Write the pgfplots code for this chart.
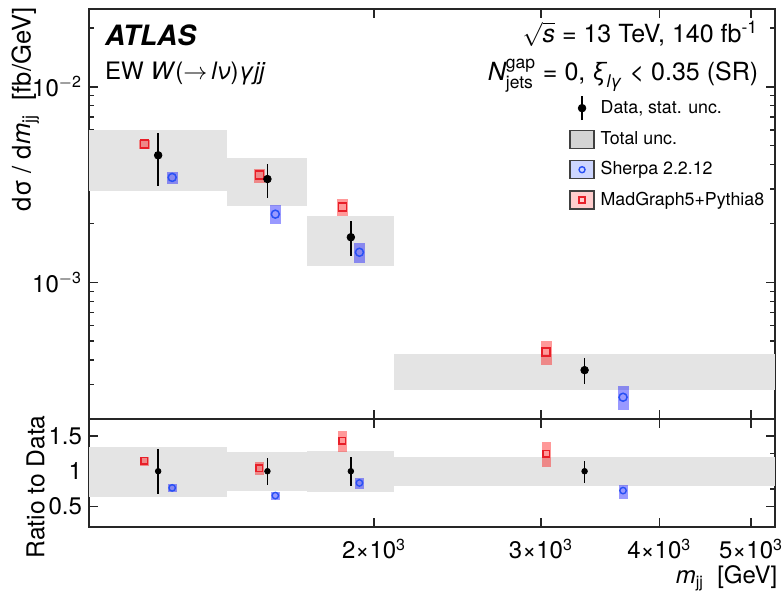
\documentclass[border=0pt]{standalone}
\usepackage{fontspec}
\setmainfont{TeX Gyre Heros}
\usepackage{amsmath}
\usepackage{pgfplots}
\pgfplotsset{compat=1.18}
\definecolor{boxgray}{RGB}{228,228,228}
\definecolor{legray}{RGB}{212,212,212}
\definecolor{mgred}{RGB}{232,30,40}
\definecolor{shblue}{RGB}{40,80,245}
\definecolor{legblue}{RGB}{205,214,255}
\definecolor{legred}{RGB}{255,205,205}

\pgfplotstableread{
x y ep em
1183 4.465e-3 1.345e-3 1.369e-3
1543 3.374e-3 0.676e-3 0.664e-3
1890 1.701e-3 0.347e-3 0.342e-3
3336 3.555e-4 0.540e-4 0.542e-4
}\datatop
\pgfplotstableread{
x y ep em
1144 5.10e-3 0.275e-3 0.290e-3
1513 3.537e-3 0.260e-3 0.318e-3
1851 2.424e-3 0.254e-3 0.252e-3
3039 4.41e-4 0.61e-4 0.64e-4
}\mgtop
\pgfplotstableread{
x y ep em
1224 3.44e-3 0.243e-3 0.244e-3
1573 2.232e-3 0.262e-3 0.239e-3
1930 1.425e-3 0.160e-3 0.163e-3
3663 2.584e-4 0.370e-4 0.368e-4
}\shtop
\pgfplotstableread{
x y ep em
1183 1 0.31 0.32
1543 1 0.19 0.20
1890 1 0.20 0.21
3336 1 0.15 0.16
}\dataratio
\pgfplotstableread{
x y ep em
1144 1.146 0.060 0.067
1513 1.042 0.085 0.090
1851 1.433 0.137 0.156
3039 1.245 0.174 0.184
}\mgratio
\pgfplotstableread{
x y ep em
1224 0.764 0.056 0.057
1573 0.655 0.052 0.061
1930 0.834 0.076 0.080
3663 0.726 0.080 0.118
}\shratio

\begin{document}
\begin{tikzpicture}
\begin{axis}[name=top, scale only axis, width=343pt, height=205pt,
  xmode=log, xmin=1000, xmax=5300,
  axis line style={line width=0.8pt, black!85},
  every tick/.style={line width=0.7pt, black!85},
  major tick length=4.5pt, minor tick length=2.5pt,
  xtick={1000,2000,3000,4000,5000}, minor xtick={},
  tick label style={font=\fontsize{12}{14}\selectfont},
  tick align=inside,
  ymode=log, ymin=2e-4, ymax=0.025,
  ytick={1e-3,1e-2},
  yticklabels={10\textsuperscript{$-$3},10\textsuperscript{$-$2}},
  minor ytick={2e-4,3e-4,4e-4,5e-4,6e-4,7e-4,8e-4,9e-4,2e-3,3e-3,4e-3,5e-3,6e-3,7e-3,8e-3,9e-3,2e-2},
  xticklabels={},
  ylabel={dσ / d\textit{m}\textsubscript{jj}~~[fb/GeV]},
  ylabel style={at={(axis description cs:-0.085,1.004)}, anchor=base east, inner sep=0pt,
    font=\fontsize{12.8}{14}\selectfont},
  legend style={at={(axis description cs:0.691,0.80)}, anchor=north west, draw=none, fill=none,
    font=\fontsize{8.9}{10.5}\selectfont, row sep=3.2pt, column sep=2pt, nodes={inner sep=1pt}},
  legend cell align=left,
]
% total uncertainty boxes
\addplot[fill=boxgray, draw=none, forget plot] coordinates {(1000,2.918e-3) (1400,2.918e-3) (1400,5.998e-3) (1000,5.998e-3)};
\addplot[fill=boxgray, draw=none, forget plot] coordinates {(1400,2.444e-3) (1700,2.444e-3) (1700,4.31e-3) (1400,4.31e-3)};
\addplot[fill=boxgray, draw=none, forget plot] coordinates {(1700,1.214e-3) (2100,1.214e-3) (2100,2.19e-3) (1700,2.19e-3)};
\addplot[fill=boxgray, draw=none, forget plot] coordinates {(2100,2.816e-4) (5300,2.816e-4) (5300,4.29e-4) (2100,4.29e-4)};
% MC uncertainty boxes
\addplot[draw=none, mark=none, forget plot,
  error bars/.cd, y dir=both, y explicit, error mark=none,
  error bar style={draw=red, line width=5.5pt, draw opacity=0.4}]
  table[x=x, y=y, y error plus=ep, y error minus=em] {\mgtop};
\addplot[draw=none, mark=none, forget plot,
  error bars/.cd, y dir=both, y explicit, error mark=none,
  error bar style={draw=blue, line width=5.5pt, draw opacity=0.4}]
  table[x=x, y=y, y error plus=ep, y error minus=em] {\shtop};
% MC markers
\addplot[only marks, mark=square, mark size=2pt, mgred, line width=0.75pt, forget plot] table[x=x, y=y] {\mgtop};
\addplot[only marks, mark=o, mark size=2pt, shblue, line width=0.75pt, forget plot] table[x=x, y=y] {\shtop};
% data
\addplot[only marks, mark=*, mark size=1.9pt, black, forget plot,
  error bars/.cd, y dir=both, y explicit, error mark=none,
  error bar style={line width=0.75pt, black}] table[x=x, y=y, y error plus=ep, y error minus=em] {\datatop};

\addlegendimage{legend image code/.code={\path[draw=none,fill=none] (0pt,-6pt) rectangle (12pt,6pt); \draw[black, line width=0.75pt] (6pt,-6pt)--(6pt,6pt); \fill[black] (6pt,0pt) circle (1.9pt);}}
\addlegendentry{Data, stat. unc.}
\addlegendimage{legend image code/.code={\path[draw=none,fill=none] (0pt,-6pt) rectangle (12pt,6pt); \draw[fill=legray, draw=black!75, line width=0.6pt] (0pt,-4.5pt) rectangle (12pt,4.5pt);}}
\addlegendentry{Total unc.}
\addlegendimage{legend image code/.code={\path[draw=none,fill=none] (0pt,-6pt) rectangle (12pt,6pt); \draw[fill=legblue, draw=black!75, line width=0.6pt] (0pt,-4.5pt) rectangle (12pt,4.5pt); \draw[shblue, line width=0.7pt, fill=none] (6pt,0pt) circle (1.5pt);}}
\addlegendentry{Sherpa 2.2.12}
\addlegendimage{legend image code/.code={\path[draw=none,fill=none] (0pt,-6pt) rectangle (12pt,6pt); \draw[fill=legred, draw=black!75, line width=0.6pt] (0pt,-4.5pt) rectangle (12pt,4.5pt); \draw[mgred, line width=0.7pt, fill=none] (4.5pt,-1.5pt) rectangle (7.5pt,1.5pt);}}
\addlegendentry{MadGraph5+Pythia8}

\node[anchor=base west, inner sep=0pt, font=\fontsize{14}{16}\selectfont\bfseries\itshape] at (axis description cs:0.023,0.912) {ATLAS};
\node[anchor=base west, inner sep=0pt, font=\fontsize{12}{14}\selectfont] at (axis description cs:0.023,0.827) {EW \textit{W}(\ensuremath{\rightarrow}\,\textit{lν})\textit{γjj}};
\node[anchor=base east, inner sep=0pt, font=\fontsize{12.5}{14}\selectfont] at (axis description cs:0.976,0.918) {\ensuremath{\sqrt{\text{\itshape s}}} = 13 TeV, 140 fb\textsuperscript{-1}};
\node[anchor=base east, inner sep=0pt, font=\fontsize{12.5}{14}\selectfont] at (axis description cs:0.976,0.825) {\ensuremath{\text{\itshape N}^{\text{gap}}_{\text{jets}}} = 0, \ensuremath{\text{\itshape ξ}_{\text{\itshape lγ}}} < 0.35 (SR)};
\end{axis}

\begin{axis}[name=ratio, at={(top.south west)}, anchor=north west,
  scale only axis, width=343pt, height=54pt,
  xmode=log, xmin=1000, xmax=5300,
  axis line style={line width=0.8pt, black!85},
  every tick/.style={line width=0.7pt, black!85},
  major tick length=4.5pt, minor tick length=2.5pt,
  xtick={1000,2000,3000,4000,5000}, minor xtick={},
  tick label style={font=\fontsize{12}{14}\selectfont},
  tick align=inside,
  ymin=0.21, ymax=1.74,
  ytick={0.5,1,1.5}, yticklabels={0.5,1,1.5}, minor ytick={0.75,1.25},
  xticklabels={,2×10\textsuperscript{3},3×10\textsuperscript{3},4×10\textsuperscript{3},5×10\textsuperscript{3}},
  xticklabel style={anchor=base, yshift=-16pt},
  ylabel={Ratio to Data},
  ylabel style={at={(axis description cs:-0.065,1.037)}, anchor=base east, inner sep=0pt,
    font=\fontsize{12.3}{14}\selectfont},
  xlabel={\textit{m}\textsubscript{jj}~~[GeV]},
  xlabel style={at={(axis description cs:1.004,0)}, anchor=base east, yshift=-28.5pt, inner sep=0pt,
    font=\fontsize{12}{14}\selectfont},
]
\addplot[fill=boxgray, draw=none, forget plot] coordinates {(1000,0.641) (1400,0.641) (1400,1.348) (1000,1.348)};
\addplot[fill=boxgray, draw=none, forget plot] coordinates {(1400,0.726) (1700,0.726) (1700,1.277) (1400,1.277)};
\addplot[fill=boxgray, draw=none, forget plot] coordinates {(1700,0.71) (2100,0.71) (2100,1.29) (1700,1.29)};
\addplot[fill=boxgray, draw=none, forget plot] coordinates {(2100,0.788) (5300,0.788) (5300,1.202) (2100,1.202)};
\addplot[draw=none, mark=none, forget plot,
  error bars/.cd, y dir=both, y explicit, error mark=none,
  error bar style={draw=red, line width=4.5pt, draw opacity=0.4}]
  table[x=x, y=y, y error plus=ep, y error minus=em] {\mgratio};
\addplot[draw=none, mark=none, forget plot,
  error bars/.cd, y dir=both, y explicit, error mark=none,
  error bar style={draw=blue, line width=4.5pt, draw opacity=0.4}]
  table[x=x, y=y, y error plus=ep, y error minus=em] {\shratio};
\addplot[only marks, mark=square, mark size=1.6pt, mgred, line width=0.7pt, forget plot] table[x=x, y=y] {\mgratio};
\addplot[only marks, mark=o, mark size=1.6pt, shblue, line width=0.7pt, forget plot] table[x=x, y=y] {\shratio};
\addplot[only marks, mark=*, mark size=1.4pt, black, forget plot,
  error bars/.cd, y dir=both, y explicit, error mark=none,
  error bar style={line width=0.7pt, black}] table[x=x, y=y, y error plus=ep, y error minus=em] {\dataratio};
\end{axis}

\pgfresetboundingbox
\path[use as bounding box] ([xshift=-44.5pt,yshift=4.5pt]top.north west) rectangle ([xshift=4.5pt,yshift=-36pt]ratio.south east);
\end{tikzpicture}
\end{document}
